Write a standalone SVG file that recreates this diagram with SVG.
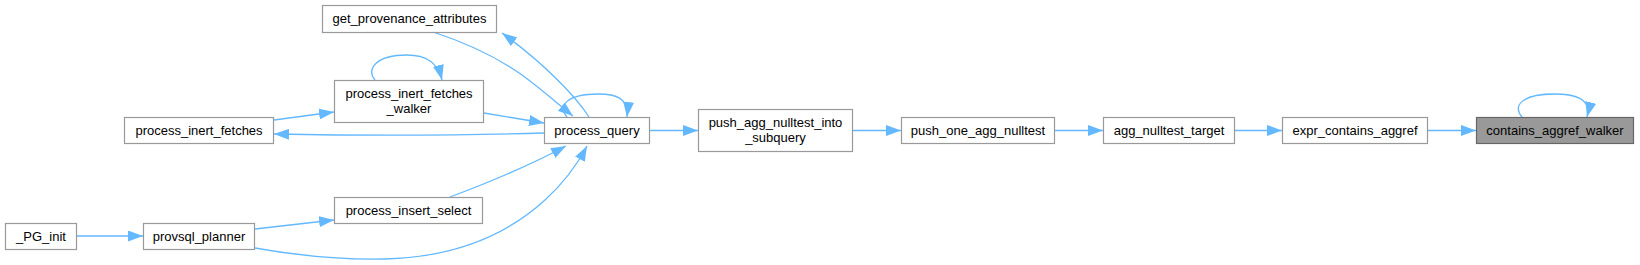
<svg xmlns="http://www.w3.org/2000/svg" width="1640" height="265" viewBox="0 0 1640 265">
<style>
.n rect{fill:#ffffff;stroke:#999999;stroke-width:1.2}
.n.h rect{fill:#999999;stroke:#666666}
.n text{font-family:"Liberation Sans",Arial,sans-serif;font-size:13px;fill:#000000;text-anchor:middle}
.e path{fill:none;stroke:#63b8ff;stroke-width:1.3;marker-end:url(#ah)}
</style>
<defs>
<marker id="ah" markerWidth="15" markerHeight="11" refX="15" refY="5.5" orient="auto" markerUnits="userSpaceOnUse" viewBox="0 0 15 11"><path d="M0,0L15,5.5L0,11z" fill="#63b8ff"/></marker>
</defs>
<rect width="1640" height="265" fill="#ffffff"/>
<g id="edges" class="e">
<path d="M1428,130.5L1476,130.5"/>
<path d="M1235,130.5L1282,130.5"/>
<path d="M1055,130.5L1103,130.5"/>
<path d="M853,130.5L901,130.5"/>
<path d="M650,130.5L698,130.5"/>
<path d="M1522,117C1512,106 1522,94 1554,94C1574,94 1592,98 1587,117"/>
<path d="M567,117C557,106 567,94 598,94C616,94 629,98 627,117"/>
<path d="M375,80C366,70 375,55 407,55C428,55 438,64 442,80"/>
<path d="M433,32C470,44 498,58 522,75C540,88 558,104 573,116"/>
<path d="M589,117C577,98 545,64 502,33"/>
<path d="M484,113L544,123"/>
<path d="M544,133C480,135 380,136 274,134"/>
<path d="M274,120L334,112"/>
<path d="M450,197C490,182 525,168 566,146"/>
<path d="M255,248C300,256 340,260 385,259C460,257 510,232 545,200C565,182 578,163 587,146"/>
<path d="M255,229L334,220"/>
<path d="M77,236L143,236"/>
</g>
<g id="n_get_provenance_attributes" class="n"><rect x="322.5" y="5.5" width="174" height="27"/><text x="409.5" y="23">get_provenance_attributes</text></g>
<g id="n_process_inert_fetches_walker" class="n"><rect x="334.5" y="80.5" width="149" height="42"/><text x="409" y="97.5">process_inert_fetches</text><text x="409" y="112.5">_walker</text></g>
<g id="n_process_inert_fetches" class="n"><rect x="124.5" y="117.5" width="149" height="26"/><text x="199" y="135">process_inert_fetches</text></g>
<g id="n_process_insert_select" class="n"><rect x="334.5" y="197.5" width="148" height="26"/><text x="408.5" y="215">process_insert_select</text></g>
<g id="n_PG_init" class="n"><rect x="5.5" y="223.5" width="71" height="26"/><text x="41" y="241">_PG_init</text></g>
<g id="n_provsql_planner" class="n"><rect x="143.5" y="223.5" width="111" height="26"/><text x="199" y="241">provsql_planner</text></g>
<g id="n_process_query" class="n"><rect x="544.5" y="117.5" width="105" height="26"/><text x="597" y="135">process_query</text></g>
<g id="n_push_agg_nulltest_into_subquery" class="n"><rect x="698.5" y="109.5" width="154" height="42"/><text x="775.5" y="126.5">push_agg_nulltest_into</text><text x="775.5" y="141.5">_subquery</text></g>
<g id="n_push_one_agg_nulltest" class="n"><rect x="901.5" y="117.5" width="153" height="26"/><text x="978" y="135">push_one_agg_nulltest</text></g>
<g id="n_agg_nulltest_target" class="n"><rect x="1103.5" y="117.5" width="131" height="26"/><text x="1169" y="135">agg_nulltest_target</text></g>
<g id="n_expr_contains_aggref" class="n"><rect x="1282.5" y="117.5" width="145" height="26"/><text x="1355" y="135">expr_contains_aggref</text></g>
<g id="n_contains_aggref_walker" class="n h"><rect x="1476.5" y="117.5" width="157" height="26"/><text x="1555" y="135">contains_aggref_walker</text></g>
</svg>
